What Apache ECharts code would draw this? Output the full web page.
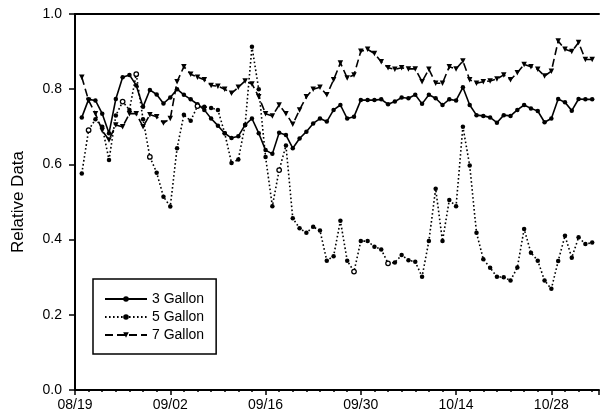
<!DOCTYPE html>
<html><head><meta charset="utf-8">
<script src="https://cdn.jsdelivr.net/npm/echarts@6/dist/echarts.min.js"></script>
<style>html,body{margin:0;padding:0;background:#fff}#c{width:602px;height:419px}</style>
</head><body><div id="c"></div>
<script>
// x = days since 08/19; first sample on 08/20 (day 1), one sample per day
var startDay = 1;
var tickLabels = ['08/19','09/02','09/16','09/30','10/14','10/28'];
var gallon3 = [0.725,0.773,0.770,0.735,0.683,0.774,0.832,0.838,0.810,0.753,
  0.798,0.786,0.762,0.778,0.800,0.785,0.773,0.760,0.745,0.722,
  0.703,0.683,0.670,0.675,0.705,0.722,0.683,0.638,0.628,0.684,
  0.678,0.643,0.669,0.687,0.709,0.722,0.714,0.745,0.758,0.722,
  0.727,0.771,0.771,0.771,0.773,0.760,0.767,0.778,0.776,0.785,
  0.761,0.785,0.776,0.758,0.773,0.770,0.805,0.758,0.731,0.729,
  0.725,0.711,0.731,0.729,0.745,0.758,0.749,0.742,0.712,0.722,
  0.774,0.765,0.743,0.774,0.773,0.773];
var gallon5 = [0.576,0.691,0.720,0.700,0.612,0.730,0.767,0.745,0.840,0.720,
  0.620,0.578,0.514,0.488,0.643,0.732,0.716,0.755,0.753,0.750,
  0.745,0.683,0.604,0.613,0.705,0.913,0.800,0.620,0.489,0.585,
  0.650,0.457,0.430,0.418,0.434,0.424,0.344,0.356,0.450,0.344,
  0.315,0.396,0.396,0.381,0.374,0.337,0.339,0.359,0.345,0.341,
  0.301,0.396,0.535,0.396,0.505,0.489,0.700,0.597,0.418,0.348,
  0.325,0.301,0.300,0.291,0.326,0.428,0.365,0.344,0.291,0.269,
  0.343,0.410,0.352,0.406,0.388,0.392];
var gallon7 = [0.832,0.770,0.735,0.690,0.665,0.705,0.700,0.735,0.735,0.700,
  0.732,0.727,0.710,0.722,0.820,0.860,0.840,0.832,0.825,0.810,
  0.808,0.800,0.789,0.805,0.822,0.814,0.780,0.735,0.729,0.758,
  0.735,0.707,0.745,0.780,0.800,0.805,0.785,0.825,0.870,0.830,
  0.838,0.901,0.906,0.895,0.873,0.857,0.853,0.857,0.854,0.854,
  0.820,0.853,0.816,0.816,0.860,0.854,0.875,0.825,0.816,0.820,
  0.822,0.827,0.838,0.825,0.844,0.866,0.860,0.853,0.835,0.848,
  0.928,0.906,0.900,0.924,0.879,0.879];
var seriesNames = ['3 Gallon','5 Gallon','7 Gallon'];
// style only: days whose 5 Gallon marker is drawn open (hollow) in the original
var hollowDays5 = [2, 7, 9, 11, 18, 30, 41, 46];

function pairs(arr, hollow){
  return arr.map(function(v,i){
    var d = startDay + i;
    if (hollow && hollow.indexOf(d) >= 0) {
      return {value: [d, v], itemStyle: {color: '#fff', borderColor: '#000', borderWidth: 1.3}};
    }
    return [d, v];
  });
}

var FONT = 'Liberation Sans, Arial, sans-serif';
var chart = echarts.init(document.getElementById('c'), null, {renderer:'canvas'});
chart.setOption({
  animation: false,
  backgroundColor: '#fff',
  grid: {left: 75, right: 0, top: 14, bottom: 29},
  legend: {
    orient: 'vertical', left: 93, top: 279,
    padding: [11, 12, 10, 11],
    borderColor: '#000', borderWidth: 1.5, borderRadius: 0,
    itemWidth: 42, itemHeight: 7, itemGap: 0,
    textStyle: {fontFamily: FONT, fontSize: 14, color: '#000', lineHeight: 18},
    data: seriesNames
  },
  xAxis: [{
    type: 'value', min: 0, max: 77, interval: 14,
    axisLine: {show: true, onZero: false, lineStyle: {color: '#000', width: 2}},
    axisTick: {show: true, length: 5, lineStyle: {color: '#000', width: 1.5}},
    minorTick: {show: true, splitNumber: 7, length: 2, lineStyle: {color: '#000', width: 1.5}},
    splitLine: {show: false},
    axisLabel: {fontFamily: FONT, fontSize: 14, color: '#000', margin: 8,
      formatter: function(v){ var k = Math.round(v/14); return (v % 14 === 0 && tickLabels[k]) ? tickLabels[k] : ''; }}
  },{
    type: 'value', position: 'top', min: 0, max: 77,
    axisLine: {show: true, onZero: false, lineStyle: {color: '#000', width: 2}},
    axisTick: {show: false}, axisLabel: {show: false}, splitLine: {show: false}
  }],
  yAxis: {
    type: 'value', min: 0, max: 1, interval: 0.2,
    name: 'Relative Data', nameLocation: 'middle', nameGap: 48,
    nameTextStyle: {fontFamily: FONT, fontSize: 17, color: '#000'},
    axisLine: {show: true, lineStyle: {color: '#000', width: 2}},
    axisTick: {show: true, length: 6, lineStyle: {color: '#000', width: 1.5}},
    splitLine: {show: false},
    axisLabel: {fontFamily: FONT, fontSize: 14, color: '#000', margin: 13,
      formatter: function(v){ return v.toFixed(1); }}
  },
  series: [{
    name: seriesNames[0], type: 'line', data: pairs(gallon3),
    symbol: 'circle', symbolSize: 4.5, showAllSymbol: true,
    lineStyle: {color: '#000', width: 1.6, type: 'solid'},
    itemStyle: {color: '#000'}
  },{
    name: seriesNames[1], type: 'line', data: pairs(gallon5, hollowDays5),
    symbol: 'circle', symbolSize: 4.5, showAllSymbol: true,
    lineStyle: {color: '#000', width: 1.6, type: [1.6, 2.4]},
    itemStyle: {color: '#000'}
  },{
    name: seriesNames[2], type: 'line', data: pairs(gallon7),
    symbol: 'triangle', symbolRotate: 180, symbolSize: 5.5, showAllSymbol: true,
    lineStyle: {color: '#000', width: 1.6, type: [8, 4]},
    itemStyle: {color: '#000'}
  }]
});
</script></body></html>
